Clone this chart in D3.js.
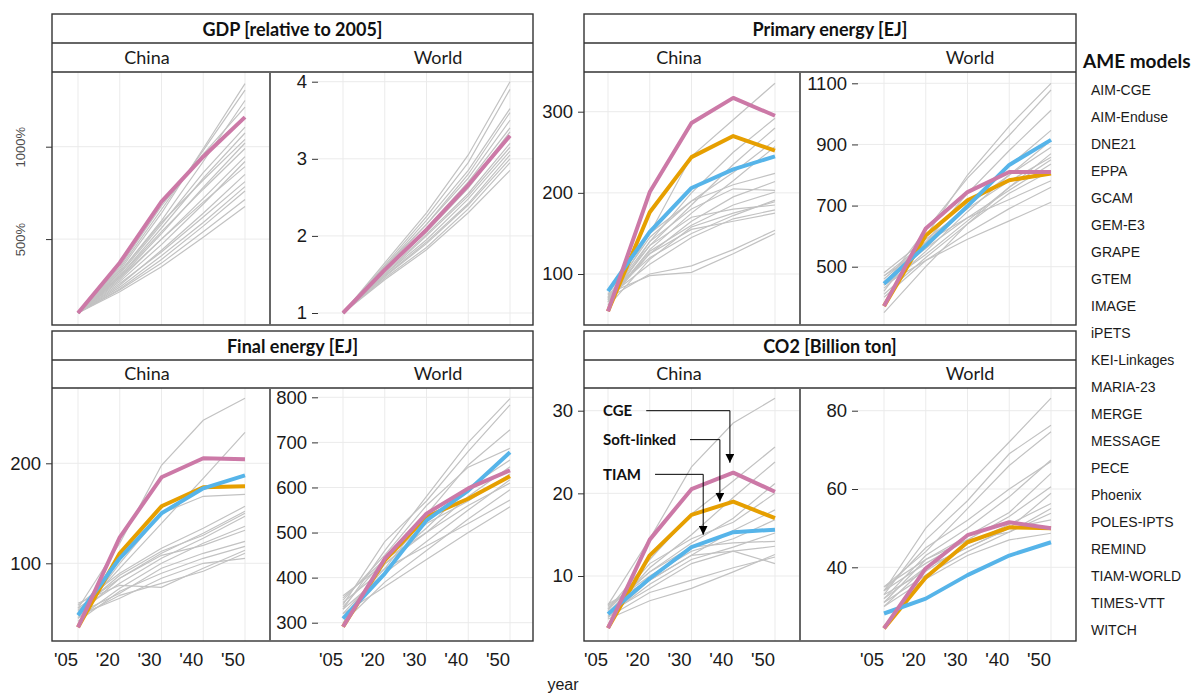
<!DOCTYPE html>
<html>
<head>
<meta charset="utf-8">
<script src="https://cdn.jsdelivr.net/npm/d3@7"></script>
<style>
  body { margin: 0; background: #fff; }
</style>
</head>
<body>
<div id="chart-area"></div>
<script>

// x categories and legend
const years = ["'05", "'20", "'30", "'40", "'50"];
const models = ["AIM-CGE", "AIM-Enduse", "DNE21", "EPPA", "GCAM", "GEM-E3", "GRAPE", "GTEM", "IMAGE",
  "iPETS", "KEI-Linkages", "MARIA-23", "MERGE", "MESSAGE", "PECE", "Phoenix", "POLES-IPTS",
  "REMIND", "TIAM-WORLD", "TIMES-VTT", "WITCH"];

// GDP, China (% of 2005)
const gdpChinaTicks = [500, 1000];
const gdpChinaGrey = [
  [100, 330, 640, 990, 1341], [100, 340, 660, 980, 1306], [100, 320, 600, 920, 1250],
  [100, 350, 680, 960, 1214], [100, 310, 580, 860, 1106], [100, 300, 560, 830, 1074],
  [100, 320, 590, 820, 1040], [100, 290, 530, 780, 1020], [100, 300, 540, 770, 990],
  [100, 280, 500, 720, 946], [100, 270, 470, 690, 920], [100, 290, 500, 700, 892],
  [100, 250, 440, 640, 850], [100, 260, 430, 620, 811], [100, 240, 410, 590, 784],
  [100, 230, 390, 570, 760], [100, 225, 370, 540, 714], [100, 215, 350, 510, 676]];
const gdpChinaCGE = [100, 372, 703, 946, 1160];

// GDP, World (relative to 2005)
const gdpWorldTicks = [1, 2, 3, 4];
const gdpWorldGrey = [
  [1, 1.65, 2.3, 3.05, 4.0], [1, 1.62, 2.25, 2.95, 3.9], [1, 1.6, 2.2, 2.85, 3.65],
  [1, 1.58, 2.15, 2.8, 3.6], [1, 1.6, 2.15, 2.75, 3.5], [1, 1.55, 2.1, 2.7, 3.4],
  [1, 1.57, 2.08, 2.65, 3.35], [1, 1.55, 2.05, 2.62, 3.3], [1, 1.52, 2.02, 2.55, 3.2],
  [1, 1.5, 2.0, 2.52, 3.15], [1, 1.5, 1.95, 2.48, 3.1], [1, 1.48, 1.92, 2.42, 3.05],
  [1, 1.47, 1.9, 2.4, 3.0], [1, 1.45, 1.85, 2.35, 2.95], [1, 1.43, 1.82, 2.3, 2.85]];
const gdpWorldCGE = [1, 1.56, 2.08, 2.66, 3.3];

// Primary energy [EJ]
const peChinaTicks = [100, 200, 300];
const peChinaGrey = [
  [65, 150, 245, 290, 335], [70, 140, 200, 250, 292], [68, 135, 185, 235, 280],
  [72, 145, 190, 225, 265], [66, 130, 175, 215, 257], [75, 150, 190, 210, 224],
  [70, 125, 165, 195, 214], [62, 140, 180, 205, 203], [68, 128, 160, 185, 201],
  [74, 120, 150, 172, 191], [60, 118, 158, 175, 189], [70, 135, 170, 180, 185],
  [72, 112, 145, 168, 179], [66, 125, 155, 165, 175], [70, 100, 110, 130, 154],
  [76, 98, 102, 125, 150]];
const peChinaCGE = [54, 201, 286, 317, 295];
const peChinaSoft = [54, 176, 244, 270, 252];
const peChinaTIAM = [79, 152, 206, 229, 245];

const peWorldTicks = [500, 700, 900, 1100];
const peWorldGrey = [
  [420, 600, 800, 960, 1100], [440, 620, 790, 930, 1078], [450, 580, 740, 880, 1012],
  [470, 560, 700, 830, 946], [430, 550, 680, 800, 913], [460, 580, 700, 800, 891],
  [440, 540, 650, 760, 870], [480, 590, 690, 780, 858], [450, 560, 660, 750, 836],
  [410, 530, 640, 740, 814], [470, 580, 660, 720, 781], [440, 520, 610, 690, 760],
  [400, 520, 590, 650, 711], [350, 500, 640, 760, 850]];
const peWorldCGE = [371, 625, 744, 810, 810];
const peWorldSoft = [371, 602, 717, 783, 805];
const peWorldTIAM = [444, 569, 698, 833, 915];

// Final energy [EJ]
const feChinaTicks = [100, 200];
const feChinaGrey = [
  [55, 120, 198, 243, 265], [50, 95, 140, 185, 231], [45, 100, 150, 167, 169],
  [58, 90, 115, 135, 157], [48, 85, 110, 130, 152], [52, 80, 105, 125, 147],
  [45, 75, 100, 120, 137], [55, 85, 108, 118, 133], [50, 70, 95, 110, 122],
  [42, 72, 90, 105, 117], [60, 78, 76, 95, 113], [48, 65, 85, 100, 105],
  [53, 88, 112, 128, 150], [46, 68, 80, 92, 110]];
const feChinaCGE = [36, 126, 186, 205, 204];
const feChinaSoft = [36, 110, 157, 176, 177];
const feChinaTIAM = [48, 105, 150, 175, 188];

const feWorldTicks = [300, 400, 500, 600, 700, 800];
const feWorldGrey = [
  [330, 460, 580, 700, 797], [340, 480, 570, 680, 783], [320, 420, 540, 650, 728],
  [350, 450, 560, 645, 687], [310, 430, 510, 600, 661], [360, 430, 500, 580, 646],
  [330, 410, 480, 550, 617], [300, 390, 460, 530, 595], [345, 420, 470, 520, 572],
  [320, 380, 440, 500, 557], [335, 440, 520, 570, 630], [355, 440, 500, 560, 610]];
const feWorldCGE = [291, 442, 542, 598, 638];
const feWorldSoft = [291, 438, 535, 575, 625];
const feWorldTIAM = [309, 409, 527, 593, 678];

// CO2 [Billion ton]
const co2ChinaTicks = [10, 20, 30];
const co2ChinaGrey = [
  [6.5, 14.5, 23.2, 28.5, 31.5], [6.0, 12.0, 17.5, 21.5, 25.6], [5.5, 11.0, 15.0, 19.5, 23.8],
  [6.2, 10.5, 14.0, 17.0, 21.2], [5.8, 11.5, 14.5, 16.5, 20.0], [5.0, 9.5, 12.5, 15.5, 18.0],
  [6.4, 10.0, 13.0, 14.5, 16.8], [5.2, 9.0, 12.0, 13.5, 15.2], [6.0, 10.5, 13.5, 14.0, 14.2],
  [5.5, 8.5, 11.5, 13.0, 13.6], [4.8, 7.0, 8.5, 10.5, 12.6], [6.6, 9.5, 12.5, 13.0, 11.5],
  [5.0, 8.0, 9.5, 11.0, 12.3]];
const co2ChinaCGE = [3.7, 14.4, 20.5, 22.5, 20.2];
const co2ChinaSoft = [3.7, 12.5, 17.4, 19.0, 17.0];
const co2ChinaTIAM = [5.4, 9.7, 13.5, 15.3, 15.6];

const co2WorldTicks = [40, 60, 80];
const co2WorldGrey = [
  [34, 50, 61, 72, 83.2], [33, 47, 57, 69, 76.3], [35, 44, 55, 66, 74.6],
  [32, 43, 50, 58, 67.4], [31, 42, 48, 54, 64], [34, 41, 47, 53, 60.6],
  [30, 40, 45, 50, 58.9], [33, 39, 46, 51, 56.3], [31, 38, 44, 49, 55],
  [35, 42, 47, 49, 53.8], [32, 40, 45, 50, 52.1], [30, 37, 43, 47, 48.7],
  [34, 45, 52, 60, 67]];
const co2WorldCGE = [24.4, 39.7, 48.2, 51.5, 50];
const co2WorldSoft = [24.4, 37.4, 46.4, 50.2, 50];
const co2WorldTIAM = [28.2, 32, 38, 43, 46.4];

// annotation labels in the CO2 China panel
const annLabels = ["CGE", "Soft-linked", "TIAM"];
const annTextVal = [30, 26.5, 22.3];
const annTipIndex = [2.92, 2.68, 2.28];
const annTipVal = [23.7, 19.0, 15.0];

// ---------------------------------------------------------------
const width = 1198, height = 693;
const colCGE = "#CC79A7", colSoft = "#E69F00", colTIAM = "#56B4E9";
const titleFont = "Lato, 'Open Sans', sans-serif";
const axisFont = "'Liberation Sans', Arial, sans-serif";

const svg = d3.select("#chart-area").append("svg")
  .attr("width", width).attr("height", height);

const rows = [
  {top: 14, mid: 43, strip: 72, bottom: 325},
  {top: 331, mid: 360, strip: 388, bottom: 641}
];
const cols = [
  {x0: 52, x1: 533, split: 270, wLeft: 318, cPts: [78, 245], wPts: [343, 510]},
  {x0: 584, x1: 1076, split: 800, wLeft: 858, cPts: [608, 775], wPts: [884, 1051]}
];

const panels = [
  {title: "GDP [relative to 2005]", row: 0, col: 0,
    china: {grey: gdpChinaGrey, lines: [gdpChinaCGE], cols: [colCGE], ticks: gdpChinaTicks,
      dom: [100, 1000], px: [313, 146.7], pct: true},
    world: {grey: gdpWorldGrey, lines: [gdpWorldCGE], cols: [colCGE], ticks: gdpWorldTicks,
      dom: [1, 4], px: [313, 81.7]}},
  {title: "Primary energy [EJ]", row: 0, col: 1,
    china: {grey: peChinaGrey, lines: [peChinaSoft, peChinaTIAM, peChinaCGE], cols: [colSoft, colTIAM, colCGE],
      ticks: peChinaTicks, dom: [100, 300], px: [274, 111.7]},
    world: {grey: peWorldGrey, lines: [peWorldSoft, peWorldTIAM, peWorldCGE], cols: [colSoft, colTIAM, colCGE],
      ticks: peWorldTicks, dom: [500, 1100], px: [266.7, 83.3]}},
  {title: "Final energy [EJ]", row: 1, col: 0,
    china: {grey: feChinaGrey, lines: [feChinaSoft, feChinaTIAM, feChinaCGE], cols: [colSoft, colTIAM, colCGE],
      ticks: feChinaTicks, dom: [100, 200], px: [563.3, 463.3]},
    world: {grey: feWorldGrey, lines: [feWorldSoft, feWorldTIAM, feWorldCGE], cols: [colSoft, colTIAM, colCGE],
      ticks: feWorldTicks, dom: [300, 800], px: [622.7, 397.3]}},
  {title: "CO2 [Billion ton]", row: 1, col: 1,
    china: {grey: co2ChinaGrey, lines: [co2ChinaSoft, co2ChinaTIAM, co2ChinaCGE], cols: [colSoft, colTIAM, colCGE],
      ticks: co2ChinaTicks, dom: [10, 30], px: [576, 410.7], ann: true},
    world: {grey: co2WorldGrey, lines: [co2WorldSoft, co2WorldTIAM, co2WorldCGE], cols: [colSoft, colTIAM, colCGE],
      ticks: co2WorldTicks, dom: [40, 80], px: [567.3, 410.7]}}
];

// arrow marker
svg.append("defs").append("marker")
  .attr("id", "arrow")
  .attr("viewBox", "0 0 10 10")
  .attr("refX", 10).attr("refY", 5)
  .attr("markerWidth", 9).attr("markerHeight", 9)
  .attr("markerUnits", "userSpaceOnUse")
  .attr("orient", "auto")
  .append("path").attr("d", "M0,0 L10,5 L0,10 Z").attr("fill", "#000");

function drawSub(sub, r, c, isWorld) {
  const plotLeft = isWorld ? c.wLeft : c.x0;
  const plotRight = isWorld ? c.x1 : c.split;
  const x = d3.scalePoint().domain(years).range(isWorld ? c.wPts : c.cPts);
  const y = d3.scaleLinear().domain(sub.dom).range(sub.px);
  const g = svg.append("g");

  // grid
  g.selectAll(".vgrid").data(years).enter().append("line")
    .attr("x1", d => x(d)).attr("x2", d => x(d))
    .attr("y1", r.strip).attr("y2", r.bottom)
    .attr("stroke", "#EBEBEB").attr("stroke-width", 1);
  g.selectAll(".hgrid").data(sub.ticks).enter().append("line")
    .attr("x1", plotLeft).attr("x2", plotRight)
    .attr("y1", d => y(d)).attr("y2", d => y(d))
    .attr("stroke", "#EBEBEB").attr("stroke-width", 1);

  const line = d3.line().x((d, i) => x(years[i])).y(d => y(d));

  g.selectAll(".grey").data(sub.grey).enter().append("path")
    .attr("d", line).attr("fill", "none")
    .attr("stroke", "#C2C2C2").attr("stroke-width", 1.2);

  sub.lines.forEach((s, i) => {
    g.append("path").datum(s).attr("d", line).attr("fill", "none")
      .attr("stroke", sub.cols[i]).attr("stroke-width", 4)
      .attr("stroke-linejoin", "round");
  });

  // y axis
  const yAxis = d3.axisLeft(y).tickValues(sub.ticks).tickSize(6).tickPadding(5)
    .tickFormat(d => sub.pct ? d + "%" : String(d));
  const ax = svg.append("g").attr("transform", "translate(" + plotLeft + ",0)").call(yAxis);
  ax.select(".domain").remove();
  ax.selectAll(".tick line").attr("stroke", "#333");
  ax.selectAll("text").attr("font-family", axisFont).attr("font-size", 18.5).attr("fill", "#1a1a1a");
  if (sub.pct) {
    ax.selectAll("text")
      .attr("font-size", 13).attr("fill", "#4d4d4d")
      .attr("text-anchor", "middle")
      .attr("x", 0).attr("dy", 0)
      .attr("transform", "translate(-27,0) rotate(-90)");
  }

  // x labels (bottom row only)
  if (r === rows[1]) {
    svg.selectAll(null).data(years).enter().append("text")
      .attr("x", d => x(d) - 12).attr("y", 660).attr("dy", "0.35em")
      .attr("text-anchor", "middle")
      .attr("font-family", axisFont).attr("font-size", 18.5).attr("fill", "#1a1a1a")
      .text(d => d);
  }

  // annotations
  if (sub.ann) {
    annLabels.forEach((lab, i) => {
      const ty = y(annTextVal[i]);
      const t = svg.append("text").attr("x", 603).attr("y", ty).attr("dy", "0.35em")
        .attr("font-family", titleFont).attr("font-weight", "bold").attr("font-size", 15)
        .attr("fill", "#111").text(lab);
      const tx0 = 603 + t.node().getComputedTextLength() + 14;
      const k = Math.floor(annTipIndex[i]);
      const f = annTipIndex[i] - k;
      const tipX = x(years[k]) + f * (x(years[k + 1]) - x(years[k]));
      svg.append("path")
        .attr("d", "M" + tx0 + "," + ty + " H" + tipX + " V" + y(annTipVal[i]))
        .attr("fill", "none").attr("stroke", "#000").attr("stroke-width", 1)
        .attr("marker-end", "url(#arrow)");
    });
  }
}

panels.forEach(p => {
  const r = rows[p.row], c = cols[p.col];
  drawSub(p.china, r, c, false);
  drawSub(p.world, r, c, true);

  // frame
  const fr = svg.append("g");
  fr.append("rect").attr("x", c.x0).attr("y", r.top)
    .attr("width", c.x1 - c.x0).attr("height", r.bottom - r.top)
    .attr("fill", "none").attr("stroke", "#333").attr("stroke-width", 1.4);
  fr.append("line").attr("x1", c.x0).attr("x2", c.x1).attr("y1", r.mid).attr("y2", r.mid)
    .attr("stroke", "#333").attr("stroke-width", 1.4);
  fr.append("line").attr("x1", c.x0).attr("x2", c.x1).attr("y1", r.strip).attr("y2", r.strip)
    .attr("stroke", "#333").attr("stroke-width", 1.4);
  fr.append("line").attr("x1", c.split).attr("x2", c.split).attr("y1", r.strip).attr("y2", r.bottom)
    .attr("stroke", "#666").attr("stroke-width", 2);

  fr.append("text").attr("x", (c.x0 + c.x1) / 2).attr("y", (r.top + r.mid) / 2 + 1)
    .attr("dy", "0.35em").attr("text-anchor", "middle")
    .attr("font-family", titleFont).attr("font-weight", "bold").attr("font-size", 18)
    .attr("fill", "#111").text(p.title);
  fr.append("text").attr("x", c.x0 + 95).attr("y", (r.mid + r.strip) / 2)
    .attr("dy", "0.35em").attr("text-anchor", "middle")
    .attr("font-family", titleFont).attr("font-size", 18).attr("fill", "#1a1a1a").text("China");
  fr.append("text").attr("x", c.x0 + 386).attr("y", (r.mid + r.strip) / 2)
    .attr("dy", "0.35em").attr("text-anchor", "middle")
    .attr("font-family", titleFont).attr("font-size", 18).attr("fill", "#1a1a1a").text("World");
});

// x axis title
svg.append("text").attr("x", 563).attr("y", 690).attr("text-anchor", "middle")
  .attr("font-family", axisFont).attr("font-size", 16).attr("fill", "#1a1a1a").text("year");

// legend
svg.append("text").attr("x", 1083).attr("y", 68)
  .attr("font-family", titleFont).attr("font-weight", "bold").attr("font-size", 19)
  .attr("fill", "#111").text("AME models");
svg.selectAll(".leg").data(models).enter().append("text")
  .attr("x", 1091).attr("y", (d, i) => 90 + i * 27).attr("dy", "0.35em")
  .attr("font-family", axisFont).attr("font-size", 14).attr("fill", "#1a1a1a")
  .text(d => d);

</script>
</body>
</html>
